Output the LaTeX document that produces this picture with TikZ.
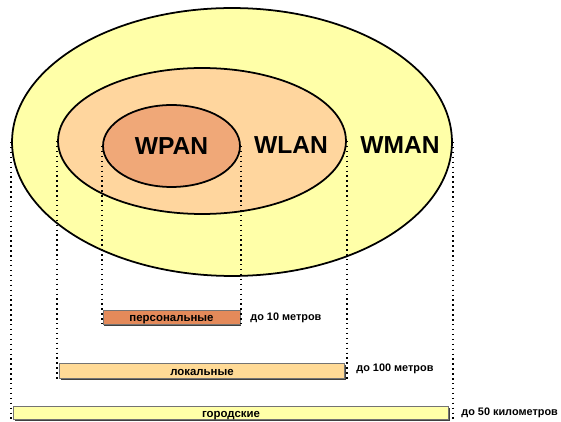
\documentclass[tikz,border=0pt]{standalone}
\usepackage{fontspec}
\setmainfont{Liberation Sans}
\usetikzlibrary{shapes.geometric,shadows}

\definecolor{manfill}{RGB}{255,255,168}
\definecolor{lanfill}{RGB}{255,214,158}
\definecolor{panfill}{RGB}{240,168,120}
\definecolor{panbar}{RGB}{228,138,90}
\definecolor{lanbar}{RGB}{255,218,150}

\begin{document}
\begin{tikzpicture}[x=0.02cm,y=-0.02cm]
	\tikzstyle{every node}+=[inner sep=0pt]
	\tikzstyle{zone}=[ellipse,draw=black,line width=1pt]
	\tikzstyle{big}=[font=\fontsize{14}{16}\selectfont\bfseries]
	\tikzstyle{small}=[font=\fontsize{6.5}{7}\selectfont\bfseries]
	\tikzstyle{dist}=[font=\fontsize{6.2}{7}\selectfont\bfseries,anchor=west]
	\tikzstyle{rangebar}=[rectangle,draw=black!55,line width=0.4pt,small,text height=1ex,text depth=0pt,
		drop shadow={shadow xshift=0.7pt,shadow yshift=-0.9pt,opacity=1,fill=black!75}]
	\tikzstyle{guide}=[dotted,line width=0.8pt]
	\useasboundingbox (0,0) rectangle (561,422);
	% ellipses
	\node [zone,fill=manfill,minimum width=8.8cm,minimum height=5.36cm] (wman) at (232,142) {};
	\node [zone,fill=lanfill,minimum width=5.76cm,minimum height=2.92cm] (wlan) at (202,141) {};
	\node [zone,fill=panfill,minimum width=2.74cm,minimum height=1.64cm,big] (wpan) at (171.5,146) {WPAN};
	\node [big] (wlantxt) at (291,145) {WLAN};
	\node [big] (wmantxt) at (400,145) {WMAN};
	% bars
	\node [rangebar,fill=panbar,minimum width=2.74cm,minimum height=0.28cm] (pbar) at (171.5,317) {персональные};
	\node [rangebar,fill=lanbar,minimum width=5.7cm,minimum height=0.3cm] (lbar) at (202,371) {локальные};
	\node [rangebar,fill=manfill,minimum width=8.7cm,minimum height=0.26cm] (cbar) at (231,413) {городские};
	\node [dist] (pdist) at (250,318) {до 10 метров};
	\node [dist] (ldist) at (356,369) {до 100 метров};
	\node [dist] (cdist) at (461,413) {до 50 километров};
	\coordinate (cleft) at (12,422);
	\coordinate (cright) at (452,422);
	% guides
	\draw [guide] (wpan.west) -- (wpan.west |- pbar.south);
	\draw [guide] (wpan.east) -- (wpan.east |- pbar.south);
	\draw [guide] (wlan.west) -- (wlan.west |- lbar.south);
	\draw [guide] (wlan.east) -- (wlan.east |- lbar.south);
	\draw [guide] (wman.west) -- (wman.west |- cleft);
	\draw [guide] (wman.east) -- (wman.east |- cright);
\end{tikzpicture}
\end{document}
